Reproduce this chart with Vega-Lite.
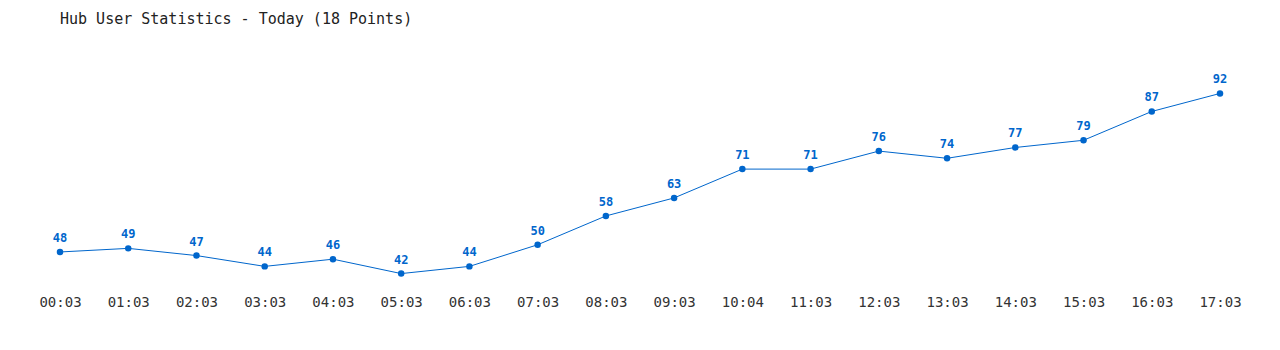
{
  "$schema": "https://vega.github.io/schema/vega-lite/v6.json",
  "autosize": "none",
  "width": 1160,
  "height": 245,
  "padding": {"left": 60, "right": 60, "top": 43, "bottom": 62},
  "background": "white",
  "title": {
    "text": "Hub User Statistics - Today (18 Points)",
    "anchor": "start",
    "frame": "group",
    "font": "DejaVu Sans Mono",
    "fontSize": 15,
    "fontWeight": "normal",
    "color": "#222222",
    "offset": 16
  },
  "data": {
    "values": [
      {"time": "00:03", "users": 48},
      {"time": "01:03", "users": 49},
      {"time": "02:03", "users": 47},
      {"time": "03:03", "users": 44},
      {"time": "04:03", "users": 46},
      {"time": "05:03", "users": 42},
      {"time": "06:03", "users": 44},
      {"time": "07:03", "users": 50},
      {"time": "08:03", "users": 58},
      {"time": "09:03", "users": 63},
      {"time": "10:04", "users": 71},
      {"time": "11:03", "users": 71},
      {"time": "12:03", "users": 76},
      {"time": "13:03", "users": 74},
      {"time": "14:03", "users": 77},
      {"time": "15:03", "users": 79},
      {"time": "16:03", "users": 87},
      {"time": "17:03", "users": 92}
    ]
  },
  "encoding": {
    "x": {
      "field": "time",
      "type": "ordinal",
      "sort": null,
      "scale": {"type": "point", "padding": 0},
      "axis": {
        "title": null,
        "labelAngle": 0,
        "domain": false,
        "ticks": false,
        "grid": false,
        "labelFont": "DejaVu Sans Mono",
        "labelFontSize": 14,
        "labelColor": "#333333",
        "labelPadding": 7
      }
    },
    "y": {
      "field": "users",
      "type": "quantitative",
      "scale": {"domain": [38, 106], "nice": false, "zero": false},
      "axis": null
    }
  },
  "layer": [
    {"mark": {"type": "line", "color": "#0066cc", "strokeWidth": 1}},
    {"mark": {"type": "point", "filled": true, "color": "#0066cc", "size": 42, "opacity": 1}},
    {
      "mark": {
        "type": "text",
        "color": "#0066cc",
        "font": "DejaVu Sans Mono",
        "fontSize": 12,
        "fontWeight": "bold",
        "dy": -14
      },
      "encoding": {"text": {"field": "users", "type": "quantitative"}}
    }
  ],
  "config": {"view": {"stroke": null}}
}
